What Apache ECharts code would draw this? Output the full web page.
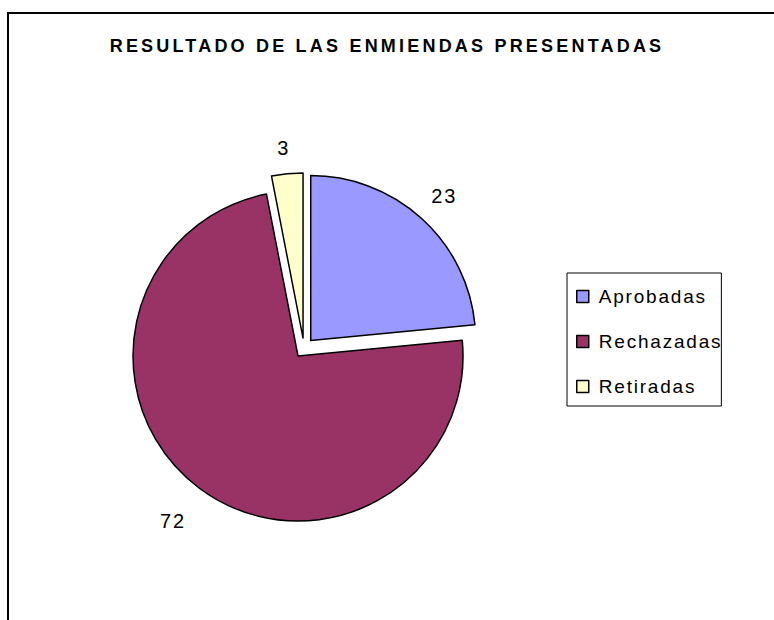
<!DOCTYPE html>
<html lang="es">
<head>
<meta charset="UTF-8">
<title>Resultado de las enmiendas presentadas</title>
<script src="https://cdn.jsdelivr.net/npm/echarts@6/dist/echarts.min.js"></script>
<style>
    html, body { margin: 0; padding: 0; background: #fff; }
    #main { width: 774px; height: 620px; }
    /* espaciado de letras como en el original */
    #main text { letter-spacing: 1.8px; }
    #main text[style*="bold"] { letter-spacing: 3.2px; }
</style>
</head>
<body>
<div id="main"></div>
<script>
    var categorias = ['Aprobadas', 'Rechazadas', 'Retiradas'];
    var valores = [23, 72, 3];
    var colores = ['#9999FF', '#993366', '#FFFFCC'];

    var myChart = echarts.init(document.getElementById('main'), null, {renderer: 'svg'});

    // distancia de cada etiqueta al borde del sector
    var distEtiqueta = [31, 41, 26];

    var datos = categorias.map(function (c, i) {
        return {
            name: c,
            value: valores[i],
            selected: true,
            itemStyle: {color: colores[i]},
            labelLine: {show: false, length: distEtiqueta[i], length2: 0}
        };
    });

    var option = {
        animation: false,
        backgroundColor: '#fff',
        title: {
            text: 'RESULTADO DE LAS ENMIENDAS PRESENTADAS',
            left: 'center',
            top: 37,
            padding: 0,
            textStyle: {fontFamily: 'Liberation Sans', fontWeight: 'bold', fontSize: 18, color: '#000'}
        },
        graphic: [{
            type: 'rect',
            shape: {x: 8, y: 13, width: 800, height: 700},
            style: {fill: 'none', stroke: '#000', lineWidth: 2},
            silent: true
        }],
        legend: {
            orient: 'vertical',
            left: 567,
            top: 273,
            padding: [13, 17, 9, 9],
            itemGap: 24,
            itemWidth: 12,
            itemHeight: 12,
            icon: 'rect',
            borderColor: '#000',
            borderWidth: 1,
            itemStyle: {borderColor: '#000', borderWidth: 1.5},
            textStyle: {fontFamily: 'Liberation Sans', fontSize: 19, color: '#000', lineHeight: 21, padding: [0, 0, 0, 5]},
            data: categorias
        },
        series: [{
            name: 'Enmiendas',
            type: 'pie',
            center: [304, 348],
            radius: 165,
            startAngle: 90,
            clockwise: true,
            selectedMode: 'multiple',
            selectedOffset: 10,
            avoidLabelOverlap: false,
            itemStyle: {borderColor: '#000', borderWidth: 1.5},
            select: {itemStyle: {borderColor: '#000', borderWidth: 1.5}},
            emphasis: {disabled: true},
            label: {
                show: true,
                position: 'outside',
                formatter: '{c}',
                distanceToLabelLine: 0,
                fontFamily: 'Liberation Sans',
                fontSize: 20,
                color: '#000'
            },
            labelLine: {show: false, length: 33, length2: 0},
            labelLayout: function (p) {
                var w = p.labelRect.width;
                return {dx: p.align === 'right' ? w / 2 : -w / 2};
            },
            data: datos
        }]
    };

    myChart.setOption(option);
</script>
</body>
</html>
